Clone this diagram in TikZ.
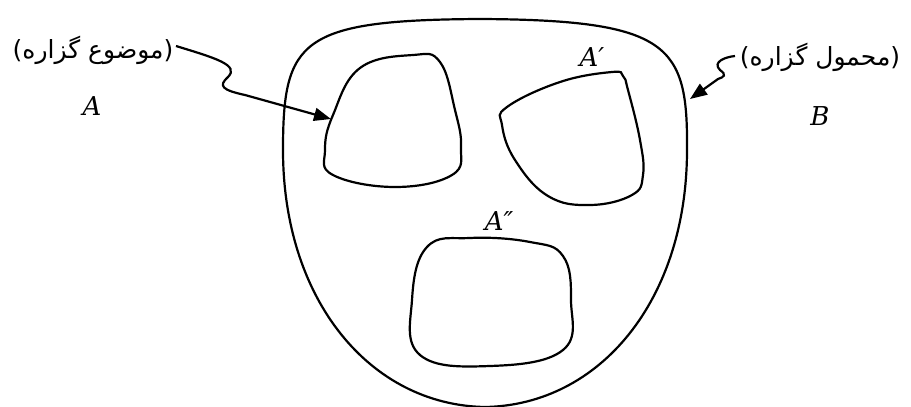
\documentclass[tikz,border=0pt]{standalone}
\usepackage{fontspec}
\newfontfamily\arabicfont[Script=Arabic]{DejaVu Sans}
\newfontfamily\setfont{DejaVu Serif}
\TeXXeTstate=1
\usetikzlibrary{arrows.meta}
\begin{document}
\begin{tikzpicture}[x=1pt,y=-1pt,
  region/.style={draw, line width=2.2pt},
  persian/.style={font=\arabicfont\fontsize{25}{28}\selectfont, inner sep=0pt},
  setlabel/.style={font=\setfont\itshape\fontsize{26}{30}\selectfont, inner sep=0pt},
  pointer/.style={-{Triangle[length=17pt,width=13pt]}, line width=2.2pt}]
\useasboundingbox (0,0) rectangle (911,407);
% outer region B
\draw[region] (283,150) .. controls (283,40) and (300,20) .. (480,19)
  .. controls (670,20) and (688,45) .. (687,150)
  .. controls (687,300) and (600,405) .. (485,407)
  .. controls (370,405) and (283,300) .. cycle;
% region A
\draw[region] plot[smooth cycle, tension=0.7] coordinates {(360,68) (413,55) (440,62) (455,110) (461,147) (452,175) (395,187) (333,175) (325,150) (333,115)};
% region A'
\draw[region] plot[smooth cycle, tension=0.7] coordinates {(507,107) (560,82) (612,72) (623,76) (628,90) (640,140) (643,175) (632,195) (590,205) (548,196) (515,160) (502,125)};
% region A''
\draw[region] plot[smooth cycle, tension=0.7] coordinates {(427,247) (470,238) (530,242) (563,256) (571,300) (563,350) (490,366) (420,355) (412,300)};
% labels
\node[persian] (lblA) at (93,50) {\beginR(موضوع گزاره)\endR};
\node[persian] (lblB) at (820,57) {\beginR(محمول گزاره)\endR};
\node[setlabel] (setA) at (92,106) {A};
\node[setlabel] (setB) at (820,116) {B};
\node[setlabel] (setA1) at (592,57) {A′};
\node[setlabel] (setA2) at (499,221) {A″};
% arrow ends
\coordinate (startA) at (176,46);
\coordinate (tipA) at (331,119);
\coordinate (startB) at (735,56);
\coordinate (tipB) at (690,99);
\draw[pointer] (startA) .. controls (215,58) and (240,65) .. (228,77) .. controls (218,86) and (222,90) .. (245,95) -- (tipA);
\draw[pointer] (startB) .. controls (725,57) and (712,62) .. (720,70) .. controls (727,75) and (724,77) .. (718,79) -- (tipB);
\end{tikzpicture}
\end{document}
